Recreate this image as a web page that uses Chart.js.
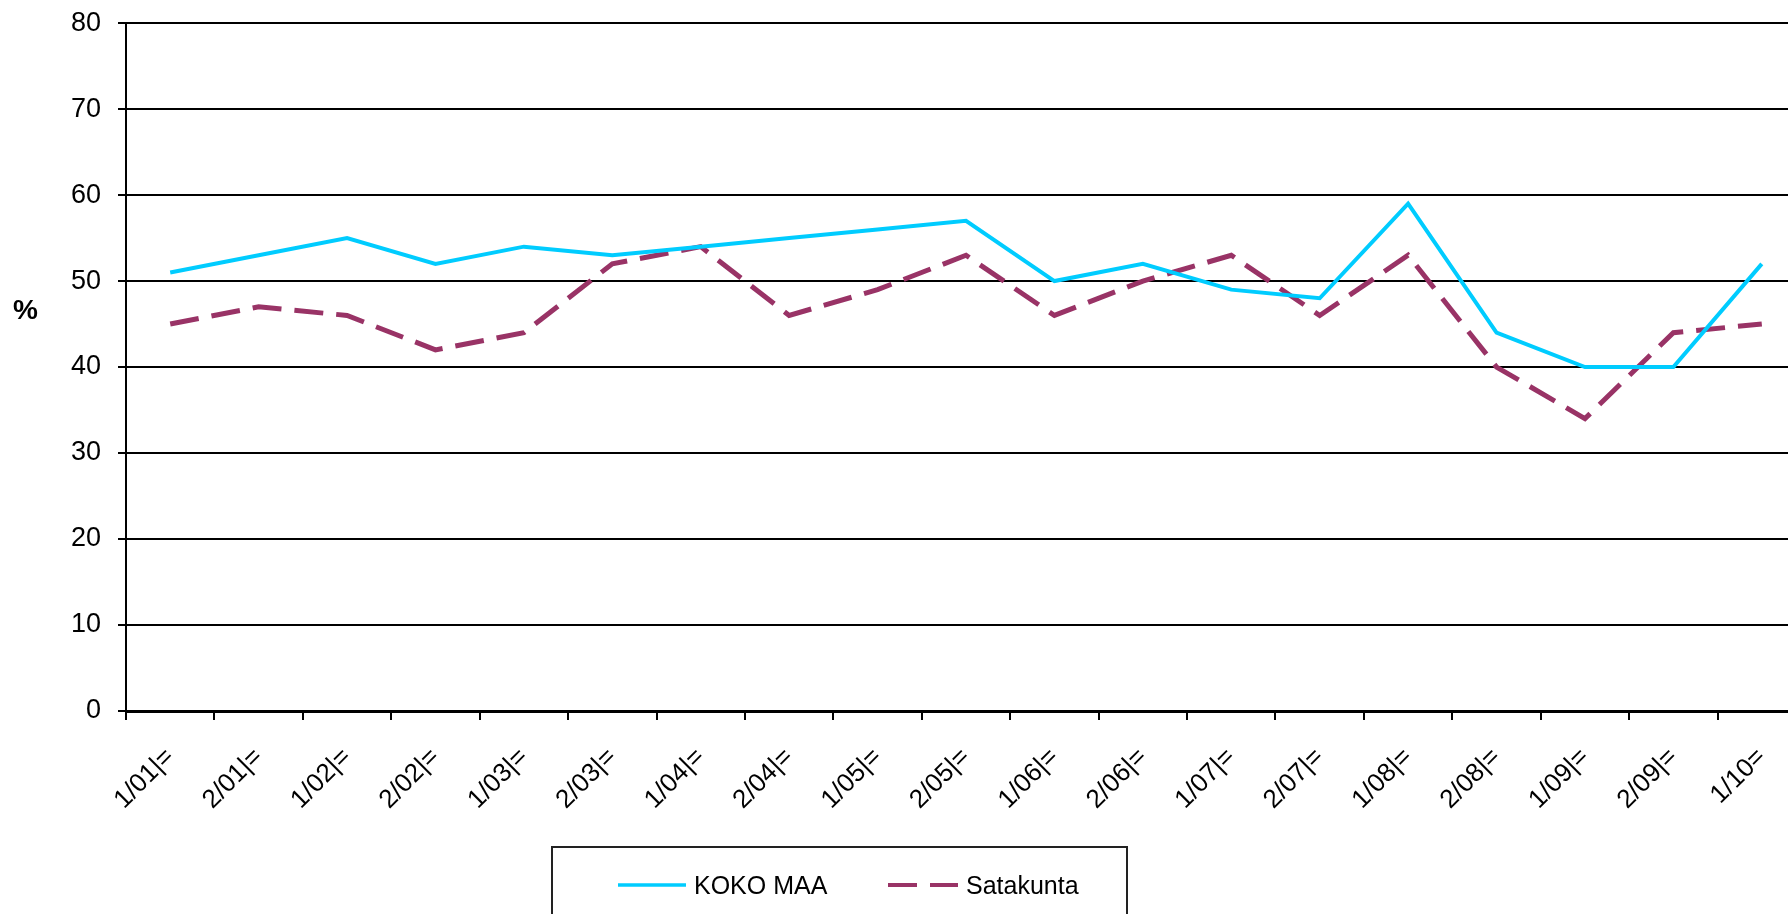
<!DOCTYPE html>
<html>
<head>
<meta charset="utf-8">
<script src="https://cdn.jsdelivr.net/npm/chart.js@4"></script>
<style>
  html, body { margin:0; padding:0; background:#fff; overflow:hidden; width:1788px; height:914px; }
  #wrap { position:absolute; left:0; top:0; width:1810px; height:914px; }
  #yTitle { position:absolute; left:13px; top:294px; font:bold 28px "Liberation Sans", Arial, sans-serif; color:#000; }
  #legend { position:absolute; left:551px; top:846px; width:577px; height:90px; border:2px solid #222; box-sizing:border-box; }
  .item { position:absolute; top:19px; height:36px; font:25px "Liberation Sans", Arial, sans-serif; color:#000; line-height:36px; white-space:nowrap; }
  .item svg { position:absolute; left:0; top:0; }
</style>
</head>
<body>
<div id="wrap"><canvas id="chart" width="1810" height="914"></canvas></div>
<div id="yTitle">%</div>
<div id="legend"></div>
<script>
const labels = ["1/01|=","2/01|=","1/02|=","2/02|=","1/03|=","2/03|=","1/04|=","2/04|=","1/05|=","2/05|=",
                "1/06|=","2/06|=","1/07|=","2/07|=","1/08|=","2/08|=","1/09|=","2/09|=","1/10="];
const kokoMaa   = [51,53,55,52,54,53,54,55,56,57,50,52,49,48,59,44,40,40,52];
const satakunta = [45,47,46,42,44,52,54,46,49,53,46,50,53,46,53,40,34,44,45];
const seriesNames = ["KOKO MAA","Satakunta"];
const seriesColors = ["#00ccff","#993366"];
const FONT = "'Liberation Sans', Arial, sans-serif";

new Chart(document.getElementById("chart"), {
  type:"line",
  data:{ labels, datasets:[
    { label:seriesNames[0], data:kokoMaa, borderColor:seriesColors[0], borderWidth:4, pointRadius:0, tension:0, fill:false },
    { label:seriesNames[1], data:satakunta, borderColor:seriesColors[1], borderWidth:5, borderDash:[29,13], pointRadius:0, tension:0, fill:false }
  ]},
  options:{
    responsive:false, animation:false,
    layout:{ padding:{ top:0, left:0, right:4, bottom:0 } },
    plugins:{ legend:{ display:false }, tooltip:{ enabled:false } },
    scales:{
      x:{
        offset:true,
        grid:{ offset:true, drawOnChartArea:false, color:"#000", lineWidth:2, tickLength:9 },
        border:{ color:"#000", width:3 },
        ticks:{ color:"#000", font:{ family:FONT, size:26 }, maxRotation:45, minRotation:45, padding:22, autoSkip:false },
        afterFit:s => { s.height = 203; }
      },
      y:{
        min:0, max:80,
        grid:{ color:"#000", lineWidth:2, tickLength:8 },
        border:{ color:"#000", width:2 },
        // small lineHeight so the top gridline sits close to the canvas top like the original
        ticks:{ stepSize:10, color:"#000", font:{ family:FONT, size:27, lineHeight:0.45 }, padding:17 },
        afterFit:s => { s.width = 126; }
      }
    }
  }
});

// legend box, same look as the original
const legendPos = [{ line:616, text:692 }, { line:886, text:964 }];
const leg = document.getElementById("legend");
seriesNames.forEach((name, i) => {
  const p = legendPos[i];
  const dash = i === 1 ? 'stroke-dasharray="29 13"' : "";
  const w = p.text - p.line - 8;
  leg.innerHTML += `<div class="item" style="left:${p.line-551}px;">
    <svg width="${w}" height="36"><line x1="0" y1="18" x2="${w}" y2="18" stroke="${seriesColors[i]}" stroke-width="${i?4:3.5}" ${dash}/></svg>
    <span style="position:absolute;left:${p.text-p.line}px;top:0;">${name}</span></div>`;
});
</script>
</body>
</html>
